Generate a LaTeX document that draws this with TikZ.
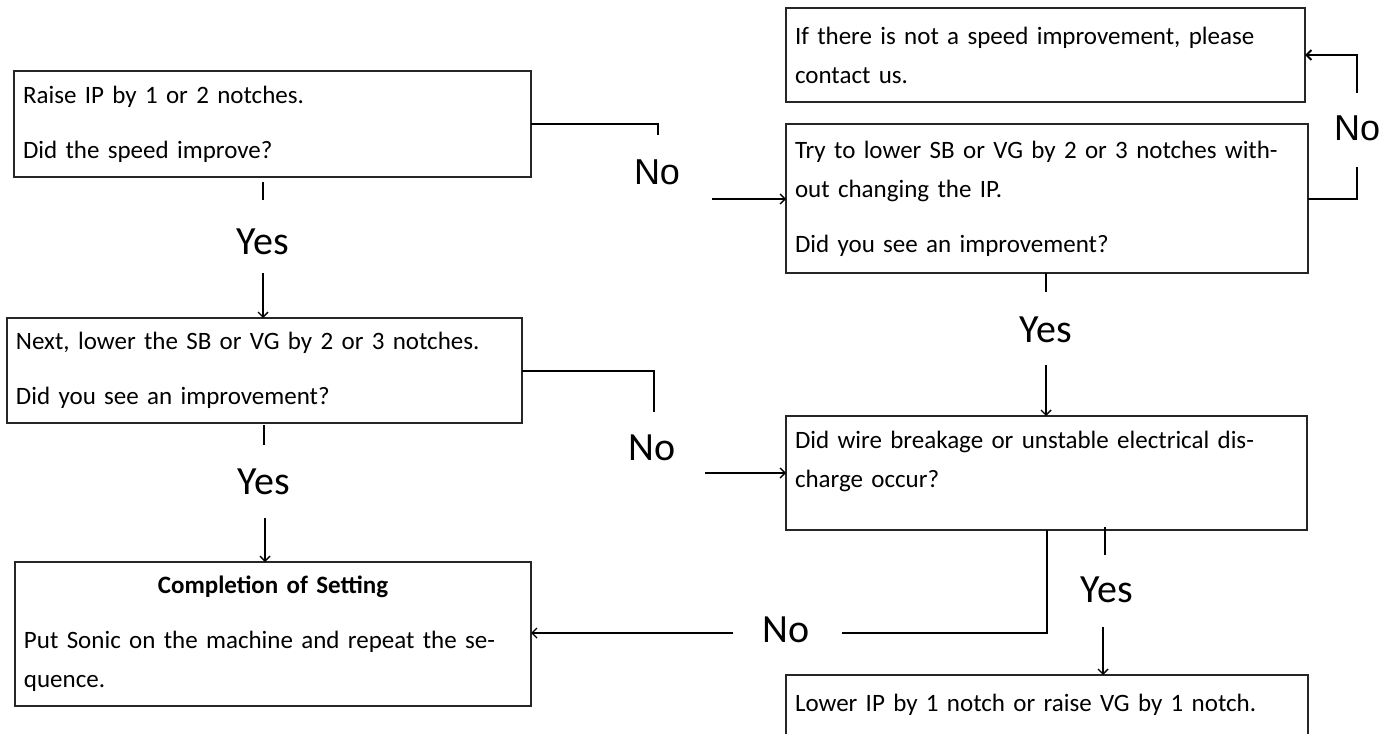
\documentclass[tikz,border=0pt]{standalone}
\usepackage{fontspec}
\setmainfont{Carlito}
\newfontfamily\arialf{Liberation Sans}
\usetikzlibrary{arrows.meta,calc}
\begin{document}
\begin{tikzpicture}[x=0.5pt,y=-0.5pt,
  box/.style={draw=black!85, line width=0.6pt, rectangle, anchor=north west,
    inner xsep=4.5pt, inner ysep=0pt, outer sep=0pt, align=left,
    font=\fontsize{12.5pt}{19.5pt}\selectfont},
  lbl/.style={font=\fontsize{20pt}{20pt}\selectfont, inner sep=0pt},
  albl/.style={font=\arialf\fontsize{18pt}{18pt}\selectfont, inner sep=0pt},
  conn/.style={line width=1pt},
  tick/.style={line width=0.7pt},
  arr/.style={line width=0.7pt, -{Straight Barb[length=2.5pt,width=5pt]}},
  arrk/.style={line width=1pt, -{Straight Barb[length=2.5pt,width=5pt]}},
]
\useasboundingbox (0,0) rectangle (1395,733);
\clip (0,0) rectangle (1395,733);

% boxes
\node[box, minimum width=259.5pt, minimum height=47pt, text width=250.5pt] (T) at (786,8)
  {If there is not a speed improvement, please\\contact us.};
\node[box, minimum width=261pt, minimum height=74.5pt, text width=252pt] (B) at (786,124)
  {\makebox[244pt][s]{Try to lower SB or VG by 2 or 3 notches with-}\\out changing the IP.\\[8pt]Did you see an improvement?};
\node[box, minimum width=258.5pt, minimum height=53pt, text width=249.5pt] (A) at (14,71)
  {Raise IP by 1 or 2 notches.\\[8pt]Did the speed improve?};
\node[box, minimum width=257.5pt, minimum height=52.5pt, text width=248.5pt] (C) at (7,318)
  {Next, lower the SB or VG by 2 or 3 notches.\\[8pt]Did you see an improvement?};
\node[box, minimum width=258pt, minimum height=72pt, text width=249pt] (D) at (15,562)
  {\makebox[249pt]{\bfseries Completion of Setting}\\[8pt]\makebox[237pt][s]{Put Sonic on the machine and repeat the se-}\\quence.};
\node[box, minimum width=260.5pt, minimum height=57pt, text width=251.5pt] (W) at (786,416)
  {\makebox[240pt][s]{Did wire breakage or unstable electrical dis-}\\charge occur?\\[-6pt]\mbox{}};
\node[box, minimum width=261pt, minimum height=30pt, text width=252pt] (E) at (786,675)
  {Lower IP by 1 notch or raise VG by 1 notch.};

% A -> B (No)
\coordinate (a1) at (658,135);
\node[albl] (noA) at (657,172) {No};
\coordinate (a2) at (712,199);
\draw[conn] (A.east) -| (a1);
\draw[arr] (a2) -- (a2 -| B.west);

% B -> T (No)
\coordinate (b1) at (1357,167);
\node[albl] (noB) at (1357,128) {No};
\coordinate (b2) at (1357,93);
\draw[conn] (B.east) -| (b1);
\draw[arrk] (b2) |- (T.east);

% A -> C (Yes)
\coordinate (ya1) at (263,182);
\coordinate (ya2) at (263,200);
\node[lbl] (yesA) at (263,242) {Yes};
\coordinate (ya3) at (263,273);
\draw[tick] (ya1) -- (ya2);
\draw[arr] (ya3) -- (ya3 |- C.north);

% C -> W (No)
\coordinate (c1) at (654,412);
\node[lbl] (noC) at (652,448) {No};
\coordinate (c2) at (705,473);
\draw[conn] (C.east) -| (c1);
\draw[arr] (c2) -- (c2 -| W.west);

% C -> D (Yes)
\coordinate (yc1) at (264,425);
\coordinate (yc2) at (264,445);
\node[lbl] (yesC) at (264,482) {Yes};
\coordinate (yc3) at (265,518);
\draw[tick] (yc1) -- (yc2);
\draw[arr] (yc3) -- (yc3 |- D.north);

% B -> W (Yes)
\coordinate (yb1) at (1046,273);
\coordinate (yb2) at (1046,292);
\node[lbl] (yesB) at (1046,330) {Yes};
\coordinate (yb3) at (1046,365);
\draw[tick] (yb1) -- (yb2);
\draw[arr] (yb3) -- (yb3 |- W.north);

% W -> D (No)
\coordinate (w1) at (842,633);
\node[lbl] (noW) at (786,630) {No};
\coordinate (w2) at (733,633);
\draw[conn] (W.south) |- (w1);
\draw[arr] (w2) -- (w2 -| D.east);

% W -> E (Yes)
\coordinate (yw1) at (1105,527);
\coordinate (yw2) at (1105,555);
\node[lbl] (yesW) at (1107,590) {Yes};
\coordinate (yw3) at (1103,627);
\draw[tick] (yw1) -- (yw2);
\draw[arr] (yw3) -- (yw3 |- E.north);
\end{tikzpicture}
\end{document}
